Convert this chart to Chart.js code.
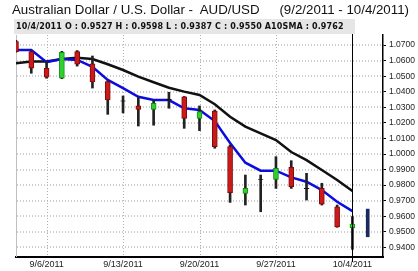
<!DOCTYPE html>
<html><head><meta charset="utf-8">
<script src="https://cdn.jsdelivr.net/npm/chart.js@4"></script>
<style>
html,body{margin:0;padding:0;background:#fff;}
#wrap{position:relative;width:418px;height:271px;overflow:hidden;}
#c{position:absolute;left:0;top:0;}
.t{position:absolute;font-family:"Liberation Sans",Arial,sans-serif;font-size:13.3px;color:#111;white-space:pre;top:2px;line-height:16px;}
#hdr{position:absolute;left:14px;top:19px;width:341px;height:15px;background:#e6e6e6;font:bold 8px "DejaVu Sans",sans-serif;letter-spacing:0.13px;color:#111;line-height:15px;padding-left:2px;box-sizing:border-box;white-space:pre;}
</style></head><body>
<div id="wrap">
<canvas id="c" width="418" height="271"></canvas>
<div class="t" style="left:12px">Australian Dollar / U.S. Dollar -  AUD/USD</div>
<div class="t" style="right:9px">(9/2/2011 - 10/4/2011)</div>
<div id="hdr">10/4/2011 O : 0.9527 H : 0.9598 L : 0.9387 C : 0.9550 A10SMA : 0.9762</div>
</div>
<script>
// ---- data ----
const categories = ['9/2/2011','9/5/2011','9/6/2011','9/7/2011','9/8/2011','9/9/2011','9/12/2011','9/13/2011','9/14/2011','9/15/2011','9/16/2011','9/19/2011','9/20/2011','9/21/2011','9/22/2011','9/23/2011','9/26/2011','9/27/2011','9/28/2011','9/29/2011','9/30/2011','10/3/2011','10/4/2011','10/5/2011','10/6/2011'];
const opens  = [1.0722,1.0658,1.0551,1.0488,1.0658,1.0579,1.0465,1.0342,1.0309,1.0287,1.0351,1.0368,1.0229,1.0276,1.0047,0.9747,0.9838,0.9837,0.9914,0.9780,0.9779,0.9661,0.9527];
const highs  = [1.0730,1.0662,1.0593,1.0660,1.0665,1.0630,1.0470,1.0373,1.0365,1.0343,1.0397,1.0370,1.0309,1.0283,1.0058,0.9865,0.9865,0.9983,0.9957,0.9876,0.9812,0.9672,0.9598];
const lows   = [1.0655,1.0519,1.0487,1.0484,1.0565,1.0424,1.0255,1.0264,1.0180,1.0185,1.0294,1.0165,1.0150,1.0037,0.9689,0.9672,0.9629,0.9779,0.9779,0.9704,0.9672,0.9529,0.9387];
const closes = [1.0658,1.0551,1.0494,1.0654,1.0577,1.0463,1.0347,1.0340,1.0287,1.0325,1.0349,1.0228,1.0272,1.0047,0.9751,0.9779,0.9836,0.9908,0.9790,0.9778,0.9678,0.9532,0.9550];
const sma10  = [1.0583,1.0594,1.0594,1.0611,1.0619,1.0611,1.0577,1.0540,1.0497,1.0461,1.0426,1.0401,1.0379,1.0320,1.0240,1.0176,1.0133,1.0090,1.0013,0.9961,0.9897,0.9833,0.9762];
const smaShort = [1.0669,1.0669,1.0590,1.0611,1.0605,1.0561,1.0476,1.0423,1.0368,1.0347,1.0347,1.0294,1.0283,1.0212,1.0071,0.9944,0.9893,0.9893,0.9850,0.9822,0.9768,0.9693,0.9633];
const nextDate = '10/5/2011';
const nextRange = [0.9468, 0.9646];
const xTickLabels = ['9/6/2011','9/13/2011','9/20/2011','9/27/2011','10/4/2011'];
const yTickLabels = ['1.0700','1.0600','1.0500','1.0400','1.0300','1.0200','1.0100','1.0000','0.9900','0.9800','0.9700','0.9600','0.9500','0.9400'];
const cursorDate = '10/4/2011';
// ---- end data ----

const isDoji = i => Math.abs(opens[i]-closes[i]) < 0.0006;
const bodyFill = opens.map((o,i)=> isDoji(i) ? '#111' : (closes[i] > o ? '#2fd12f' : '#cc1a1a'));
const bodyBorder = opens.map((o,i)=> isDoji(i) ? '#111' : (closes[i] > o ? '#138a13' : '#7d0c0c'));

const wickData = opens.map((o,i)=>({x:i, y:[lows[i], highs[i]]}));
const bodyData = opens.map((o,i)=>({x:i, y:[o, closes[i]]}));
const lineA = sma10.map((v,i)=>({x:i, y:v}));
const lineB = smaShort.map((v,i)=>({x:i, y:v}));

const decor = {
  id:'decor',
  beforeDatasetsDraw(chart){
    const {ctx, chartArea:a, scales} = chart;
    ctx.save();
    ctx.lineWidth = 1;
    ctx.setLineDash([1,2]);
    ctx.strokeStyle = '#9a9a9a';
    scales.y.ticks.forEach(t=>{
      const y = Math.round(scales.y.getPixelForValue(t.value));
      ctx.beginPath(); ctx.moveTo(a.left + 1, y); ctx.lineTo(a.right, y); ctx.stroke();
    });
    ctx.strokeStyle = '#b0b0b0';
    scales.x.ticks.forEach(t=>{
      const x = Math.round(scales.x.getPixelForValue(t.value)) + 0.5;
      ctx.beginPath(); ctx.moveTo(x, a.top); ctx.lineTo(x, a.bottom); ctx.stroke();
    });
    ctx.setLineDash([]);
    ctx.strokeStyle = '#c0c0c0';
    ctx.beginPath(); ctx.moveTo(a.left+0.5, a.top); ctx.lineTo(a.left+0.5, a.bottom); ctx.stroke();
    ctx.restore();
  },
  afterDatasetsDraw(chart){
    const {ctx, chartArea:a} = chart;
    const x = Math.round(chart.scales.x.getPixelForValue(categories.indexOf(cursorDate))) + 0.5;
    ctx.save();
    ctx.strokeStyle = '#000'; ctx.lineWidth = 1;
    ctx.beginPath(); ctx.moveTo(x, a.top - 1); ctx.lineTo(x, a.bottom + 5); ctx.stroke();
    ctx.restore();
  }
};

new Chart(document.getElementById('c'), {
  type:'bar',
  data:{
    datasets:[
      {type:'line', data:lineA, borderColor:'#111', borderWidth:2.5, pointRadius:0, tension:0, order:5},
      {type:'line', data:lineB, borderColor:'#0c0ce0', borderWidth:2.5, pointRadius:0, tension:0, order:4},
      {data:wickData, backgroundColor:'#222', borderWidth:0, barThickness:2, grouped:false, order:3},
      {data:bodyData, backgroundColor:bodyFill, borderColor:bodyBorder, borderWidth:1, borderSkipped:false, barThickness:5, grouped:false, order:2},
      {data:[{x:categories.indexOf(nextDate), y:nextRange}], backgroundColor:'#1b2a5e', borderWidth:0, barThickness:3, grouped:false, order:1}
    ]
  },
  options:{
    responsive:false, animation:false, devicePixelRatio:1,
    layout:{padding:{left:16, top:35, right:0, bottom:0}},
    plugins:{legend:{display:false}, tooltip:{enabled:false}},
    scales:{
      x:{
        type:'linear', min:0, max:categories.length-1, offset:false,
        afterBuildTicks:s=>{ s.ticks = xTickLabels.map(l=>({value:categories.indexOf(l)})); },
        afterFit:s=>{ s.height = 14; },
        ticks:{callback:v=>categories[v], autoSkip:false, maxRotation:0, padding:2, color:'#222', font:{family:'"Liberation Sans", Arial, sans-serif', size:9}},
        grid:{display:true, drawOnChartArea:false, drawTicks:false},
        border:{display:true, color:'#000', width:2}
      },
      y:{
        type:'linear', position:'right', min:0.9338, max:1.0765,
        afterBuildTicks:s=>{ s.ticks = yTickLabels.map(l=>({value:parseFloat(l)})); },
        afterFit:s=>{ s.width = 35; },
        ticks:{callback:(v,i)=>yTickLabels[i], padding:3, color:'#222', font:{family:'"Liberation Sans", Arial, sans-serif', size:8.5}},
        grid:{display:true, drawOnChartArea:false, drawTicks:true, tickLength:3, tickColor:'#000'},
        border:{display:true, color:'#000', width:1.5}
      }
    }
  },
  plugins:[decor]
});
</script>
</body></html>
